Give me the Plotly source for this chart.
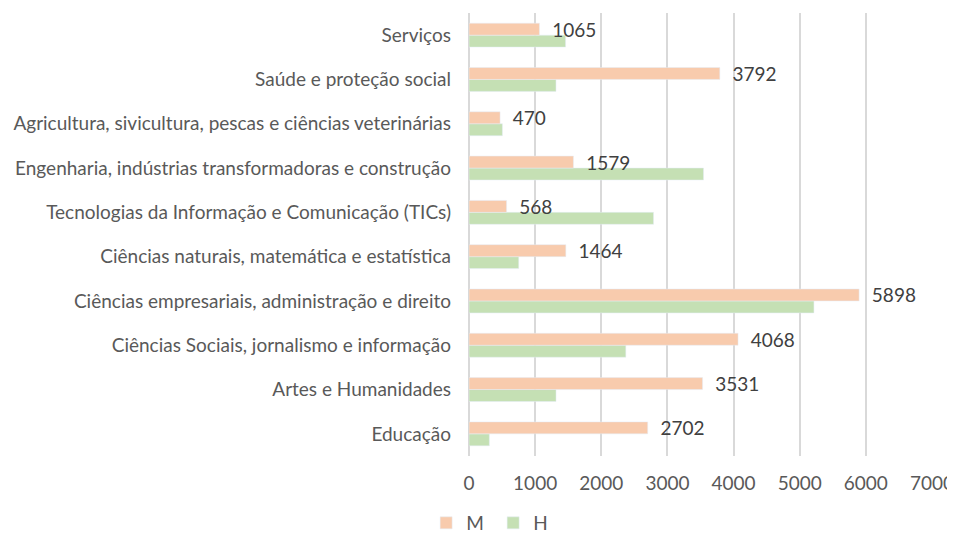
import plotly.graph_objects as go

categories = [
    "Serviços",
    "Saúde e proteção social",
    "Agricultura, sivicultura, pescas e ciências veterinárias",
    "Engenharia, indústrias transformadoras e construção",
    "Tecnologias da Informação e Comunicação (TICs)",
    "Ciências naturais, matemática e estatística",
    "Ciências empresariais, administração e direito",
    "Ciências Sociais, jornalismo e informação",
    "Artes e Humanidades",
    "Educação",
]
m_values = [1065, 3792, 470, 1579, 568, 1464, 5898, 4068, 3531, 2702]
h_values = [1460, 1315, 505, 3546, 2790, 752, 5215, 2371, 1316, 308]
x_ticks = [0, 1000, 2000, 3000, 4000, 5000, 6000, 7000]

FONT = "Lato"
TEXT = "#595959"
FS = 19

fig = go.Figure()
fig.add_trace(go.Bar(
    name="H", y=categories, x=h_values, orientation="h",
    marker=dict(color="#C5E0B4"), hoverinfo="x+y",
))
fig.add_trace(go.Bar(
    name="M", y=categories, x=m_values, orientation="h",
    marker=dict(color="#F8CBAD"),
    text=["  " + str(v) for v in m_values], textposition="outside",
    constraintext="none", cliponaxis=False,
    textfont=dict(family=FONT, size=FS, color="#404040"),
))

fig.update_layout(
    width=955, height=534,
    margin=dict(l=461, r=31, t=5, b=86),
    paper_bgcolor="white", plot_bgcolor="white",
    barmode="group", bargap=0.46, bargroupgap=0,
    font=dict(family=FONT, size=FS, color=TEXT),
    legend=dict(orientation="h", x=0.508, xanchor="center", y=-0.018, yanchor="bottom",
                yref="container", xref="container",
                traceorder="reversed", itemwidth=30, entrywidth=22,
                font=dict(size=FS, color=TEXT)),
    showlegend=True,
)
fig.update_xaxes(range=[0, 7000], tickvals=x_ticks, showgrid=True, automargin=False,
                 gridcolor="#D9D9D9", gridwidth=1.5, zeroline=True, zerolinecolor="#D9D9D9",
                 zerolinewidth=1.5, showline=False, ticks="", ticklabelstandoff=14,
                 tickfont=dict(size=FS, color=TEXT))
fig.update_yaxes(categoryorder="array", categoryarray=categories[::-1], showgrid=False,
                 automargin=False, ticks="", ticklabelstandoff=17,
                 tickfont=dict(size=FS, color=TEXT))

fig.write_html("out.html")
